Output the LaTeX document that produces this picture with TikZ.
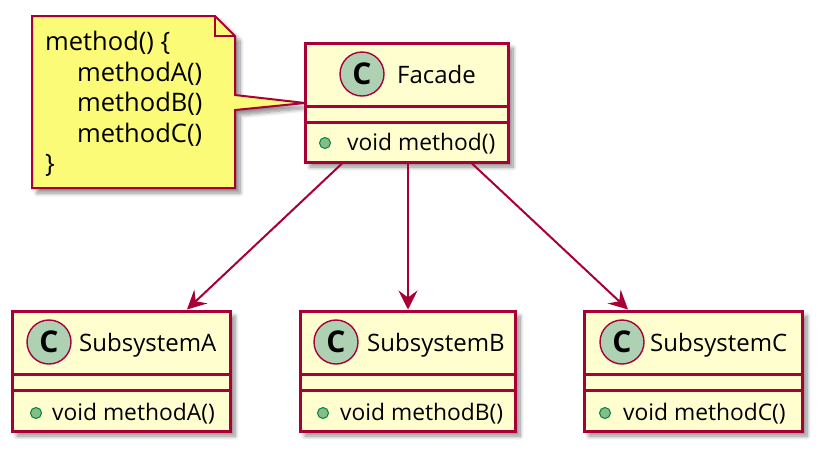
\documentclass[tikz,border=0pt]{standalone}
\usepackage{fontspec}
\setmainfont{Open Sans}
\usetikzlibrary{arrows.meta,shadows.blur,calc}
\definecolor{umlred}{HTML}{A80036}
\definecolor{classbg}{HTML}{FEFECE}
\definecolor{notebg}{HTML}{FBFB77}
\definecolor{circlebg}{HTML}{ADD1B2}
\definecolor{dotbg}{HTML}{84BE84}
\definecolor{dotborder}{HTML}{038048}
\tikzset{
  shadowed/.style={blur shadow={shadow xshift=5pt,shadow yshift=-5pt,shadow blur radius=4pt,shadow opacity=45,shadow blur steps=8}},
  classbox/.style={draw=umlred,fill=classbg,line width=3pt,shadowed,inner sep=0pt},
  sepline/.style={draw=umlred,line width=3pt},
  cbadge/.style={circle,draw=umlred,fill=circlebg,line width=1.4pt,minimum size=44pt,inner sep=0pt,
    font=\fontsize{30}{30}\selectfont\bfseries},
  pubdot/.style={circle,draw=dotborder,fill=dotbg,line width=1pt,minimum size=11pt,inner sep=0pt},
  ttl/.style={anchor=base west,inner sep=0pt,font=\fontsize{24}{26}\selectfont},
  lbl/.style={anchor=base west,inner sep=0pt,font=\fontsize{22.8}{26}\selectfont},
  notetxt/.style={anchor=base west,inner sep=0pt,font=\fontsize{25.5}{26}\selectfont},
  arr/.style={draw=umlred,line width=2pt,-{Stealth[length=19pt,width=19pt,inset=7pt]}},
  notepath/.style={draw=umlred,fill=notebg,line width=2pt,line join=miter},
}
\begin{document}
\begin{tikzpicture}[x=1pt,y=-1pt]
\useasboundingbox (0,0) rectangle (822,451);
% note
\path[notepath,shadowed] (32,16) -- (215,16) -- (235,36) -- (235,95) -- (305,103) -- (235,110) -- (235,188) -- (32,188) -- cycle;
\draw[notepath,fill=none] (215,16) -- (215,36) -- (235,36);
\node[notetxt] (n1) at (45,50) {method() \{};
\node[notetxt] (n2) at (77,81) {methodA()};
\node[notetxt] (n3) at (77,111) {methodB()};
\node[notetxt] (n4) at (77,142) {methodC()};
\node[notetxt] (n5) at (45,172) {\}};
% Facade
\node[classbox,minimum width=203pt,minimum height=119pt] (facade) at (406.5,102.5) {};
\draw[sepline] (305,106) -- (508,106);
\draw[sepline] (305,122) -- (508,122);
\node[cbadge] (fc) at (362,74) {C};
\node[ttl] (ft) at (397,83) {Facade};
\node[pubdot] (fd) at (325,143) {};
\node[lbl] (fm) at (347,150) {void method()};
% SubsystemA
\node[classbox,minimum width=218pt,minimum height=120pt] (subA) at (121,371) {};
\draw[sepline] (12,374) -- (230,374);
\draw[sepline] (12,390) -- (230,390);
\node[cbadge] (ac) at (49,342) {C};
\node[ttl] (at) at (79,351) {SubsystemA};
\node[pubdot] (ad) at (36,413) {};
\node[lbl] (am) at (52,420) {void methodA()};
% SubsystemB
\node[classbox,minimum width=215pt,minimum height=120pt] (subB) at (407.5,371) {};
\draw[sepline] (300,374) -- (515,374);
\draw[sepline] (300,390) -- (515,390);
\node[cbadge] (bc) at (336,342) {C};
\node[ttl] (bt) at (367,351) {SubsystemB};
\node[pubdot] (bd) at (323,413) {};
\node[lbl] (bm) at (340,420) {void methodB()};
% SubsystemC
\node[classbox,minimum width=218pt,minimum height=120pt] (subC) at (693,371) {};
\draw[sepline] (584,374) -- (802,374);
\draw[sepline] (584,390) -- (802,390);
\node[cbadge] (cc) at (622,342) {C};
\node[ttl] (ct) at (650,351) {SubsystemC};
\node[pubdot] (cd) at (605,413) {};
\node[lbl] (cm) at (623,420) {void methodC()};
% arrows
\draw[arr] ([xshift=-64.5pt]facade.south) -- ([xshift=66pt]subA.north);
\draw[arr] ([xshift=1.5pt]facade.south) -- ([xshift=0.5pt]subB.north);
\draw[arr] ([xshift=65.5pt]facade.south) -- ([xshift=-65pt]subC.north);
\end{tikzpicture}
\end{document}
